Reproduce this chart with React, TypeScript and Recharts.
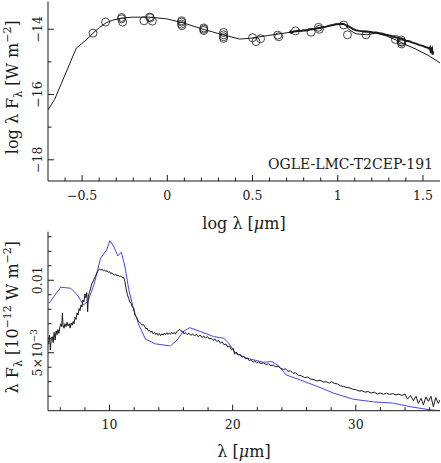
import React from 'react'
import { ComposedChart, Line, Scatter, XAxis, YAxis } from 'recharts'

const FONT = '"DejaVu Serif", serif'
const INK = '#1a1a1a'
const BLUE = '#4646ee'

// ---- top panel: SED (log lambda vs log lambda F_lambda)
const modelLogLam = [
  -0.7, -0.661, -0.534, -0.495, -0.456, -0.436, -0.397, -0.358, -0.319, -0.27, -0.202, -0.104,
  -0.006, 0.091, 0.209, 0.326, 0.424, 0.483, 0.542, 0.659, 0.756, 0.853, 0.932, 0.99, 1.039,
  1.068, 1.107, 1.17, 1.225, 1.283, 1.342, 1.381, 1.459, 1.537, 1.6,
]
const modelLogF = [
  -16.47, -16.15, -14.58, -14.41, -14.23, -14.12, -13.94, -13.8, -13.72, -13.66, -13.63, -13.63,
  -13.68, -13.8, -14.0, -14.17, -14.3, -14.28, -14.23, -14.14, -14.07, -14.0, -13.92, -13.84, -13.84,
  -14.02, -14.14, -14.17, -14.12, -14.2, -14.33, -14.43, -14.61, -14.82, -15.03,
]

const irsLogLam = [
  0.717, 0.722, 0.728, 0.736, 0.745, 0.756, 0.77, 0.785, 0.8, 0.815, 0.834, 0.853, 0.873, 0.893,
  0.912, 0.932, 0.951, 0.971, 0.99, 1.01, 1.025, 1.039, 1.059, 1.074, 1.088, 1.107, 1.127, 1.146,
  1.166, 1.185, 1.205, 1.225, 1.244, 1.264, 1.283, 1.303, 1.322, 1.342, 1.361, 1.381, 1.4, 1.42,
  1.439, 1.459, 1.478, 1.498, 1.518, 1.527, 1.537, 1.542, 1.547, 1.55, 1.553, 1.557, 1.56,
]
const irsLogF = [
  -14.12, -14.07, -14.11, -14.08, -14.06, -14.06, -14.04, -14.05, -14.03, -14.04, -14.01, -14.0,
  -13.98, -13.96, -13.94, -13.92, -13.89, -13.87, -13.85, -13.84, -13.83, -13.85, -13.9, -13.94,
  -13.99, -14.03, -14.05, -14.06, -14.08, -14.08, -14.1, -14.1, -14.12, -14.14, -14.17, -14.19,
  -14.22, -14.25, -14.28, -14.31, -14.35, -14.37, -14.41, -14.44, -14.48, -14.51, -14.55, -14.56,
  -14.6, -14.56, -14.73, -14.6, -14.58, -14.78, -14.68,
]

const photLogLam = [
  -0.436, -0.362, -0.268, -0.268, -0.262, -0.137, -0.104, -0.1, -0.088, 0.084, 0.084, 0.084, 0.086,
  0.214, 0.214, 0.214, 0.33, 0.33, 0.33, 0.33, 0.5, 0.52, 0.547, 0.648, 0.654, 0.752, 0.844, 0.887,
  0.892, 1.035, 1.057, 1.166, 1.338, 1.373, 1.373, 1.375, 1.375,
]
const photLogF = [
  -14.12, -13.78, -13.64, -13.68, -13.78, -13.74, -13.63, -13.65, -13.75, -13.74, -13.78, -13.84,
  -13.89, -13.96, -14.0, -14.04, -14.1, -14.17, -14.23, -14.28, -14.26, -14.38, -14.29, -14.18,
  -14.23, -14.05, -14.09, -13.94, -14.0, -13.87, -14.17, -14.17, -14.31, -14.33, -14.38, -14.4,
  -14.45,
]

// ---- bottom panel: IRS spectrum (lambda vs lambda F_lambda, 1e-12 W m^-2)
const specLam = [
  5.05, 5.12, 5.19, 5.27, 5.35, 5.42, 5.5, 5.58, 5.66, 5.73, 5.81, 5.89, 5.97, 6.05, 6.12, 6.17,
  6.22, 6.3, 6.38, 6.46, 6.55, 6.63, 6.72, 6.8, 6.88, 6.96, 7.04, 7.12, 7.2, 7.28, 7.36, 7.44,
  7.52, 7.6, 7.68, 7.76, 7.84, 7.92, 8.0, 8.08, 8.15, 8.22, 8.28, 8.36, 8.45, 8.55, 8.65, 8.75,
  8.87, 9.0, 9.1, 9.19, 9.3, 9.4, 9.5, 9.6, 9.7, 9.8, 9.9, 10.0, 10.1, 10.2, 10.3, 10.4, 10.5,
  10.6, 10.7, 10.81, 10.9, 11.0, 11.14, 11.25, 11.35, 11.45, 11.55, 11.65, 11.75, 11.85, 11.97,
  12.05, 12.15, 12.24, 12.35, 12.45, 12.55, 12.65, 12.75, 12.85, 12.95, 13.05, 13.15, 13.25,
  13.35, 13.45, 13.55, 13.65, 13.75, 13.85, 13.95, 14.05, 14.15, 14.25, 14.35, 14.45, 14.55,
  14.65, 14.75, 14.85, 14.95, 15.05, 15.15, 15.25, 15.35, 15.45, 15.55, 15.65, 15.76, 15.85,
  15.95, 16.05, 16.15, 16.3, 16.45, 16.6, 16.75, 16.9, 17.05, 17.2, 17.35, 17.5, 17.65, 17.8,
  17.95, 18.1, 18.25, 18.4, 18.55, 18.7, 18.85, 19.0, 19.15, 19.3, 19.45, 19.6, 19.75, 19.9,
  20.05, 20.15, 20.3, 20.45, 20.6, 20.75, 20.9, 21.05, 21.2, 21.35, 21.5, 21.65, 21.8, 21.95,
  22.1, 22.3, 22.5, 22.7, 22.9, 23.1, 23.3, 23.5, 23.7, 23.9, 24.1, 24.3, 24.5, 24.7, 24.9, 25.1,
  25.35, 25.6, 25.85, 26.1, 26.35, 26.6, 26.85, 27.1, 27.35, 27.6, 27.85, 28.05, 28.25, 28.5,
  28.75, 29.0, 29.25, 29.5, 29.75, 30.0, 30.25, 30.5, 30.75, 31.0, 31.25, 31.5, 31.75, 32.0,
  32.25, 32.5, 32.75, 33.0, 33.25, 33.5, 33.75, 34.0, 34.2, 34.45, 34.68, 34.9, 35.08, 35.3,
  35.49, 35.7, 35.9, 36.1, 36.3, 36.5, 36.7, 36.84,
]
const specFlux = [
  0.0056, 0.0062, 0.00519, 0.006, 0.00611, 0.0057, 0.0064, 0.00588, 0.0065, 0.00625, 0.0066,
  0.00634, 0.0068, 0.007, 0.0068, 0.00772, 0.0069, 0.00669, 0.007, 0.0068, 0.0071, 0.00685,
  0.007, 0.0067, 0.00705, 0.0069, 0.00715, 0.007, 0.00745, 0.0073, 0.00775, 0.0076, 0.00805,
  0.0079, 0.0083, 0.00815, 0.00864, 0.0085, 0.00905, 0.0088, 0.00915, 0.00783, 0.0089, 0.00915,
  0.0094, 0.00975, 0.0099, 0.0101, 0.0103, 0.01055, 0.0107, 0.01078, 0.0107, 0.01076, 0.01065,
  0.01071, 0.0106, 0.01066, 0.01055, 0.01059, 0.01045, 0.01052, 0.0104, 0.01037, 0.01042,
  0.0103, 0.01035, 0.01025, 0.0103, 0.0102, 0.01022, 0.0099, 0.0094, 0.009, 0.00875, 0.0085,
  0.0084, 0.00815, 0.00807, 0.0076, 0.0075, 0.00738, 0.00715, 0.0071, 0.007, 0.0069, 0.00695,
  0.0068, 0.00665, 0.0067, 0.0065, 0.00655, 0.0064, 0.00648, 0.0063, 0.0064, 0.00625, 0.00635,
  0.0062, 0.00632, 0.00618, 0.0063, 0.00622, 0.00635, 0.00625, 0.00638, 0.00626, 0.00636,
  0.00628, 0.0064, 0.0063, 0.0064, 0.00628, 0.00645, 0.0065, 0.0066, 0.00657, 0.00645, 0.0065,
  0.0063, 0.0064, 0.00625, 0.00635, 0.0062, 0.0063, 0.00615, 0.00628, 0.0061, 0.00622, 0.00605,
  0.00615, 0.006, 0.00612, 0.00595, 0.006, 0.00585, 0.00595, 0.00578, 0.00585, 0.00566, 0.00575,
  0.00555, 0.0056, 0.0054, 0.00545, 0.0052, 0.0053, 0.0049, 0.00505, 0.00485, 0.0049, 0.0047,
  0.00475, 0.00458, 0.00462, 0.00445, 0.00452, 0.00435, 0.00442, 0.0043, 0.00436, 0.00425,
  0.0043, 0.00418, 0.00424, 0.0041, 0.00415, 0.00402, 0.00408, 0.00392, 0.00385, 0.00388,
  0.00372, 0.00375, 0.00358, 0.00362, 0.00345, 0.0034, 0.00328, 0.00332, 0.00318, 0.00315,
  0.00305, 0.0031, 0.00298, 0.003, 0.0029, 0.003, 0.00288, 0.00285, 0.00272, 0.00268, 0.0026,
  0.00258, 0.00248, 0.00245, 0.00236, 0.00238, 0.00228, 0.00232, 0.00222, 0.00228, 0.00216,
  0.00222, 0.00214, 0.0022, 0.00212, 0.00218, 0.0021, 0.00214, 0.00205, 0.00215, 0.0018,
  0.00205, 0.0017, 0.002, 0.0015, 0.00185, 0.0014, 0.00195, 0.00165, 0.002, 0.00128, 0.0019,
  0.0015, 0.00175,
]

const fitLam = [
  5.08, 6.03, 6.84, 7.38, 7.87, 8.24, 8.73, 9.27, 9.76, 10.03, 10.35, 10.67, 10.95, 11.22, 11.57,
  11.97, 12.38, 12.92, 13.73, 14.95, 15.49, 15.98, 16.51, 17.38, 18.46, 19.27, 19.68, 20.22,
  21.17, 22.51, 23.19, 23.73, 24.35, 25.49, 27.25, 28.19, 29.81, 31.43, 33.06, 34.41, 36.03, 36.84,
]
const fitFlux = [
  0.00841, 0.00952, 0.00945, 0.00899, 0.0083, 0.00853, 0.00968, 0.01152, 0.01209, 0.01273,
  0.01232, 0.01168, 0.01193, 0.01106, 0.00933, 0.00795, 0.00692, 0.00593, 0.00561, 0.00547,
  0.00588, 0.00646, 0.00673, 0.00646, 0.00611, 0.006, 0.00566, 0.00497, 0.00462, 0.00434,
  0.00439, 0.00409, 0.00347, 0.00312, 0.00255, 0.00221, 0.00179, 0.00161, 0.00152, 0.00128,
  0.00106, 0.001,
]

// ---- axes / ticks
const topXMajor = [-0.5, 0, 0.5, 1, 1.5]
const topXLabels = ['−0.5', '0', '0.5', '1', '1.5']
const topYMajor = [-18, -16, -14]
const topYLabels = ['−18', '−16', '−14']
const botXMajor = [10, 20, 30]
const botXLabels = ['10', '20', '30']
const botYMajor = [0.005, 0.01]
const botYLabels = ['5×10^−3', '0.01']

const range = (a: number, b: number, step: number) => {
  const out: number[] = []
  for (let v = a; v <= b + 1e-9; v += step) out.push(Math.round(v * 10000) / 10000)
  return out
}
const topXTicks = range(-0.6, 1.5, 0.1)
const topYTicks = range(-18, -14, 1)
const botXTicks = range(6, 36, 2)
const botYTicks = range(0.002, 0.013, 0.001)

const zip = (xs: number[], ys: number[]) => xs.map((x, i) => ({ x, y: ys[i] }))
const modelData = zip(modelLogLam, modelLogF)
const irsData = zip(irsLogLam, irsLogF)
const photData = zip(photLogLam, photLogF)
const specData = zip(specLam, specFlux)
const fitData = zip(fitLam, fitFlux)

const majorIndex = (v: number, majors: number[]) =>
  majors.findIndex((m) => Math.abs(m - v) < 1e-7)

const TickText = ({ text }: { text: string }) => {
  const [base, sup] = text.split('^')
  return (
    <>
      {base}
      {sup && (
        <tspan dy={-5} fontSize={9}>
          {sup}
        </tspan>
      )}
    </>
  )
}

// side: which edge the tick sits on, ticks always point into the plot
const makeTick =
  (side: 'bottom' | 'top' | 'left' | 'right', majors: number[], labels?: string[]) =>
  (p: any) => {
    const v = p.payload.value
    const i = majorIndex(v, majors)
    const len = i >= 0 ? 6 : 3.5
    const { x, y } = p
    let line
    if (side === 'bottom') line = <line x1={x} y1={y} x2={x} y2={y - len} />
    else if (side === 'top') line = <line x1={x} y1={y} x2={x} y2={y + len} />
    else if (side === 'left') line = <line x1={x} y1={y} x2={x + len} y2={y} />
    else line = <line x1={x} y1={y} x2={x - len} y2={y} />
    let label = null
    if (labels && i >= 0) {
      if (side === 'bottom')
        label = (
          <text x={x} y={y + 18.5} textAnchor="middle" fontSize={12.5} fontFamily={FONT} fill={INK} stroke="none">
            <TickText text={labels[i]} />
          </text>
        )
      if (side === 'left')
        label = (
          <text
            transform={`translate(${x - 6},${y}) rotate(-90)`}
            textAnchor="middle"
            fontSize={12.5}
            fontFamily={FONT}
            fill={INK}
            stroke="none"
          >
            <TickText text={labels[i]} />
          </text>
        )
    }
    return (
      <g stroke={INK} strokeWidth={1}>
        {line}
        {label}
      </g>
    )
  }

const xTitle = (text: React.ReactNode, dy: number) => ({
  content: (p: any) => {
    const vb = p.viewBox
    return (
      <text x={vb.x + vb.width / 2} y={vb.y + dy} textAnchor="middle" fontSize={16} fontFamily={FONT} fill={INK}>
        {text}
      </text>
    )
  },
})

const yTitle = (text: React.ReactNode, dx: number, shift: number) => ({
  content: (p: any) => {
    const vb = p.viewBox
    const cy = vb.y + vb.height / 2 + shift
    return (
      <text transform={`translate(${vb.x + dx},${cy}) rotate(-90)`} textAnchor="middle" fontSize={16} fontFamily={FONT} fill={INK}>
        {text}
      </text>
    )
  },
})

const topYText = (
  <>
    log λ F<tspan dy={4} fontSize={11}>λ</tspan>
    <tspan dy={-4}> [W m</tspan>
    <tspan dy={-7} fontSize={11}>−2</tspan>
    <tspan dy={7}>]</tspan>
  </>
)
const botYText = (
  <>
    λ F<tspan dy={4} fontSize={11}>λ</tspan>
    <tspan dy={-4}> [10</tspan>
    <tspan dy={-7} fontSize={11}>−12</tspan>
    <tspan dy={7}> W m</tspan>
    <tspan dy={-7} fontSize={11}>−2</tspan>
    <tspan dy={7}>]</tspan>
  </>
)
const muText = (pre: string) => (
  <>
    {pre}[<tspan fontStyle="italic">μ</tspan>m]
  </>
)

const circle = (p: any) => (
  <circle cx={p.cx} cy={p.cy} r={4} fill="none" stroke={INK} strokeWidth={0.8} />
)

const axisLine = { stroke: INK, strokeWidth: 1 }

export default function App() {
  return (
    <div style={{ position: 'absolute', left: 0, top: 0, width: 441, height: 463, background: '#fff' }}>
      <div style={{ position: 'absolute', left: 0, top: 0 }}>
        <ComposedChart width={441} height={240} margin={{ top: 1.5, right: 1, bottom: 0, left: 0 }}>
          <XAxis
            dataKey="x"
            type="number"
            domain={[-0.7, 1.6]}
            allowDataOverflow
            ticks={topXTicks}
            interval={0}
            height={59}
            tickSize={0}
            tickMargin={0}
            tickLine={false}
            axisLine={axisLine}
            tick={makeTick('bottom', topXMajor, topXLabels)}
            label={xTitle(muText('log λ '), 48)}
          />
          <XAxis
            xAxisId="top"
            orientation="top"
            type="number"
            domain={[-0.7, 1.6]}
            allowDataOverflow
            ticks={topXTicks}
            interval={0}
            height={0}
            tickSize={0}
            tickMargin={0}
            tickLine={false}
            axisLine={axisLine}
            tick={makeTick('top', topXMajor)}
          />
          <YAxis
            dataKey="y"
            type="number"
            domain={[-18.65, -13.15]}
            allowDataOverflow
            ticks={topYTicks}
            interval={0}
            width={48}
            tickSize={0}
            tickMargin={0}
            tickLine={false}
            axisLine={axisLine}
            tick={makeTick('left', topYMajor, topYLabels)}
            label={yTitle(topYText, 18, -4)}
          />
          <YAxis
            yAxisId="right"
            orientation="right"
            type="number"
            domain={[-18.65, -13.15]}
            allowDataOverflow
            ticks={topYTicks}
            interval={0}
            width={0}
            tickSize={0}
            tickMargin={0}
            tickLine={false}
            axisLine={axisLine}
            tick={makeTick('right', topYMajor)}
          />
          <Line data={modelData} dataKey="y" type="linear" stroke={INK} strokeWidth={1} dot={false} isAnimationActive={false} />
          <Line data={irsData} dataKey="y" type="linear" stroke={INK} strokeWidth={2} dot={false} isAnimationActive={false} />
          <Scatter data={photData} dataKey="y" shape={circle} isAnimationActive={false} />
        </ComposedChart>
      </div>
      <div
        style={{
          position: 'absolute',
          right: 8,
          top: 156,
          fontFamily: FONT,
          fontSize: 14,
          lineHeight: '16px',
          letterSpacing: 0,
          color: INK,
          whiteSpace: 'nowrap',
        }}
      >
        OGLE-LMC-T2CEP-191
      </div>
      <div style={{ position: 'absolute', left: 0, top: 200 }}>
        <ComposedChart width={441} height={263} margin={{ top: 31.7, right: 1, bottom: 0, left: 0 }}>
          <XAxis
            dataKey="x"
            type="number"
            domain={[5, 36.84]}
            allowDataOverflow
            ticks={botXTicks}
            interval={0}
            height={52.3}
            tickSize={0}
            tickMargin={0}
            tickLine={false}
            axisLine={axisLine}
            tick={makeTick('bottom', botXMajor, botXLabels)}
            label={xTitle(muText('λ '), 46)}
          />
          <XAxis
            xAxisId="top"
            orientation="top"
            type="number"
            domain={[5, 36.84]}
            allowDataOverflow
            ticks={botXTicks}
            interval={0}
            height={0}
            tickSize={0}
            tickMargin={0}
            tickLine={false}
            axisLine={axisLine}
            tick={makeTick('top', botXMajor)}
          />
          <YAxis
            dataKey="y"
            type="number"
            domain={[0.001, 0.01335]}
            allowDataOverflow
            ticks={botYTicks}
            interval={0}
            width={48}
            tickSize={0}
            tickMargin={0}
            tickLine={false}
            axisLine={axisLine}
            tick={makeTick('left', botYMajor, botYLabels)}
            label={yTitle(botYText, 18, -4)}
          />
          <YAxis
            yAxisId="right"
            orientation="right"
            type="number"
            domain={[0.001, 0.01335]}
            allowDataOverflow
            ticks={botYTicks}
            interval={0}
            width={0}
            tickSize={0}
            tickMargin={0}
            tickLine={false}
            axisLine={axisLine}
            tick={makeTick('right', botYMajor)}
          />
          <Line data={fitData} dataKey="y" type="linear" stroke={BLUE} strokeWidth={1} dot={false} isAnimationActive={false} />
          <Line data={specData} dataKey="y" type="linear" stroke={INK} strokeWidth={1} dot={false} isAnimationActive={false} />
        </ComposedChart>
      </div>
    </div>
  )
}
